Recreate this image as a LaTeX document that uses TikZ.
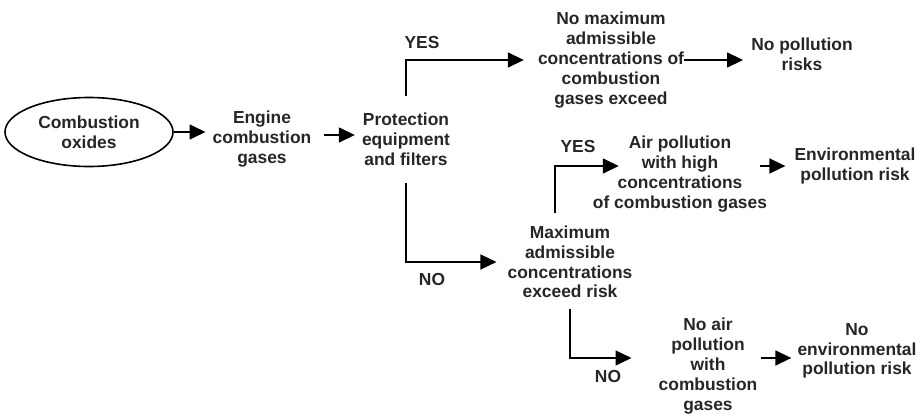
\documentclass[tikz,border=0pt]{standalone}
\usepackage{fontspec}
\setmainfont{Liberation Sans}
\usetikzlibrary{arrows.meta,shapes.geometric}

\begin{document}
\begin{tikzpicture}[x=1pt,y=-1pt,
    txt/.style={align=center,inner sep=0pt,text=black!85,
      font=\fontsize{17.4}{19.8}\selectfont\bfseries},
    arr/.style={line width=1.5pt,-{Triangle[length=16pt,width=15pt]}}]
  \useasboundingbox (0,0) rectangle (921,415);
  % source and first chain
  \node[txt,draw=black,ellipse,line width=1.6pt,minimum width=168pt,minimum height=69pt] (oxide) at(89,132) {Combustion\\oxides};
  \node[txt] (engine) at(262,139) {Engine\\combustion\\gases};
  \node[txt] (prot) at(406,139) {Protection\\equipment\\and filters};
  % upper outcome
  \node[txt] (nomax) at(611,60) {No maximum\\admissible\\concentrations of\\combustion\\gases exceed};
  \node[txt] (nopoll) at(802,54) {No pollution\\risks};
  % lower outcomes
  \node[txt] (maxadm) at(570,262) {Maximum\\admissible\\concentrations\\exceed risk};
  \node[txt] (airpoll) at(680,174) {Air pollution\\with high\\concentrations\\of combustion gases};
  \node[txt] (envrisk) at(855,166) {Environmental\\pollution risk};
  \node[txt] (noair) at(708,366) {No air\\pollution\\with\\combustion\\gases};
  \node[txt] (noenv) at(857,351) {No\\environmental\\pollution risk};
  % branch labels
  \node[txt] (yesprot) at(422,43) {YES};
  \node[txt] (noprot) at(432,280) {NO};
  \node[txt] (yesmax) at(578,147) {YES};
  \node[txt] (nomaxlbl) at(608,377) {NO};
  % arrows
  \draw[arr,shorten >=7pt] (oxide.east) -- (oxide.east -| engine.west);
  \draw[arr,shorten <=12pt,shorten >=7pt] ([yshift=4pt]engine.east) -- ([yshift=4pt]prot.west);
  \draw[arr,shorten <=17pt,shorten >=14pt] (prot.north) |- (nomax.west);
  \draw[arr,shorten <=18pt,shorten >=11pt] (prot.south) |- (maxadm.west);
  \draw[arr,shorten >=8pt] (nomax.east) -- (nomax.east -| nopoll.west);
  \draw[arr,shorten <=13pt] ([xshift=-15pt]maxadm.north) |- ([xshift=26pt,yshift=8pt]airpoll.west);
  \draw[arr,shorten <=11pt] (maxadm.south) |- ([xshift=-27pt,yshift=8pt]noair.west);
  \draw[arr,shorten >=9pt] ([xshift=-7pt,yshift=8pt]airpoll.east) -- (envrisk.west);
  \draw[arr,shorten >=6pt] ([xshift=3pt,yshift=8pt]noair.east) -- ([yshift=-7pt]noenv.west);
\end{tikzpicture}
\end{document}
